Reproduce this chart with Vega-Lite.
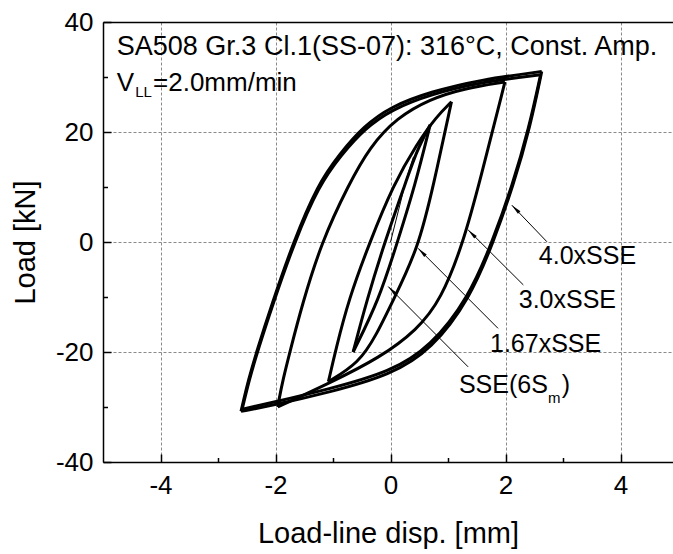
{
  "$schema": "https://vega.github.io/schema/vega-lite/v6.json",
  "width": 570,
  "height": 440,
  "autosize": {"type": "none"},
  "padding": {"left": 103, "top": 22, "right": 0, "bottom": 92},
  "background": "white",
  "config": {"view": {"stroke": null}, "font": "Liberation Sans"},
  "datasets": {
    "loops": [
      {"s": "4.0L", "x": -2.60, "y": -30.8}, {"s": "4.0L", "x": -2.47, "y": -25}, {"s": "4.0L", "x": -2.33, "y": -20}, {"s": "4.0L", "x": -2.07, "y": -11.5}, {"s": "4.0L", "x": -1.69, "y": 0}, {"s": "4.0L", "x": -1.27, "y": 10.4}, {"s": "4.0L", "x": -0.88, "y": 16.1}, {"s": "4.0L", "x": -0.47, "y": 21}, {"s": "4.0L", "x": 0, "y": 24.6}, {"s": "4.0L", "x": 0.69, "y": 27.3}, {"s": "4.0L", "x": 1.56, "y": 29.5}, {"s": "4.0L", "x": 2.63, "y": 31},
      {"s": "4.0U", "x": 2.63, "y": 31}, {"s": "4.0U", "x": 2.43, "y": 21}, {"s": "4.0U", "x": 2.14, "y": 10.4}, {"s": "4.0U", "x": 1.79, "y": 0}, {"s": "4.0U", "x": 1.38, "y": -10.3}, {"s": "4.0U", "x": 0.72, "y": -19.5}, {"s": "4.0U", "x": 0, "y": -24.2}, {"s": "4.0U", "x": -1.05, "y": -27.3}, {"s": "4.0U", "x": -2.1, "y": -29.8}, {"s": "4.0U", "x": -2.60, "y": -30.8},
      {"s": "4.0L2", "x": -2.58, "y": -30.4}, {"s": "4.0L2", "x": -2.45, "y": -24.8}, {"s": "4.0L2", "x": -2.31, "y": -19.8}, {"s": "4.0L2", "x": -2.05, "y": -11.4}, {"s": "4.0L2", "x": -1.67, "y": 0}, {"s": "4.0L2", "x": -1.25, "y": 10.2}, {"s": "4.0L2", "x": -0.86, "y": 15.8}, {"s": "4.0L2", "x": -0.45, "y": 20.6}, {"s": "4.0L2", "x": 0.02, "y": 24.1}, {"s": "4.0L2", "x": 0.71, "y": 26.9}, {"s": "4.0L2", "x": 1.58, "y": 29.1}, {"s": "4.0L2", "x": 2.61, "y": 30.4},
      {"s": "4.0U2", "x": 2.61, "y": 30.4}, {"s": "4.0U2", "x": 2.41, "y": 20.8}, {"s": "4.0U2", "x": 2.12, "y": 10.3}, {"s": "4.0U2", "x": 1.77, "y": 0}, {"s": "4.0U2", "x": 1.36, "y": -10.1}, {"s": "4.0U2", "x": 0.7, "y": -19}, {"s": "4.0U2", "x": 0, "y": -23.6}, {"s": "4.0U2", "x": -1.05, "y": -26.7}, {"s": "4.0U2", "x": -2.1, "y": -29.3}, {"s": "4.0U2", "x": -2.58, "y": -30.4},
      {"s": "3.0L", "x": -1.96, "y": -30}, {"s": "3.0L", "x": -1.94, "y": -28.7}, {"s": "3.0L", "x": -1.87, "y": -25}, {"s": "3.0L", "x": -1.75, "y": -20}, {"s": "3.0L", "x": -1.54, "y": -11.5}, {"s": "3.0L", "x": -1.2, "y": 0}, {"s": "3.0L", "x": -0.73, "y": 10.4}, {"s": "3.0L", "x": -0.36, "y": 17.3}, {"s": "3.0L", "x": 0.11, "y": 22.6}, {"s": "3.0L", "x": 0.69, "y": 26.0}, {"s": "3.0L", "x": 1.27, "y": 27.9}, {"s": "3.0L", "x": 1.99, "y": 29.1},
      {"s": "3.0U", "x": 1.99, "y": 29.1}, {"s": "3.0U", "x": 1.56, "y": 11.3}, {"s": "3.0U", "x": 1.27, "y": 0}, {"s": "3.0U", "x": 0.88, "y": -10.5}, {"s": "3.0U", "x": 0.46, "y": -16}, {"s": "3.0U", "x": -0.18, "y": -21}, {"s": "3.0U", "x": -1.05, "y": -25.6}, {"s": "3.0U", "x": -1.96, "y": -30},
      {"s": "1.67L", "x": -1.08, "y": -25.4}, {"s": "1.67L", "x": -0.95, "y": -19.5}, {"s": "1.67L", "x": -0.73, "y": -10.5}, {"s": "1.67L", "x": -0.36, "y": 0}, {"s": "1.67L", "x": 0.05, "y": 10.4}, {"s": "1.67L", "x": 0.46, "y": 17.9}, {"s": "1.67L", "x": 0.8, "y": 22.8}, {"s": "1.67L", "x": 1.06, "y": 25.5},
      {"s": "1.67U", "x": 1.06, "y": 25.5}, {"s": "1.67U", "x": 0.75, "y": 10.4}, {"s": "1.67U", "x": 0.48, "y": -1.2}, {"s": "1.67U", "x": 0.05, "y": -10.5}, {"s": "1.67U", "x": -0.25, "y": -17}, {"s": "1.67U", "x": -0.55, "y": -22}, {"s": "1.67U", "x": -1.08, "y": -25.4},
      {"s": "SSEL", "x": -0.65, "y": -20}, {"s": "SSEL", "x": -0.41, "y": -10.5}, {"s": "SSEL", "x": -0.1, "y": 0}, {"s": "SSEL", "x": 0.25, "y": 10.4}, {"s": "SSEL", "x": 0.46, "y": 16.7}, {"s": "SSEL", "x": 0.69, "y": 21.3},
      {"s": "SSEU", "x": 0.69, "y": 21.3}, {"s": "SSEU", "x": 0.43, "y": 10.4}, {"s": "SSEU", "x": 0.12, "y": 0}, {"s": "SSEU", "x": -0.2, "y": -10.5}, {"s": "SSEU", "x": -0.65, "y": -20}
    ],
    "init": [
      {"x": 0, "y": 0}, {"x": 0.14, "y": 5.8}, {"x": 0.28, "y": 11.5}, {"x": 0.4, "y": 15.5}
    ],
    "arrows": [
      {"name": "4.0xSSE", "x": 2.72, "y": 0.05, "x2": 2.11, "y2": 6.7},
      {"name": "3.0xSSE", "x": 2.31, "y": -7.8, "x2": 1.35, "y2": 2.2},
      {"name": "1.67xSSE", "x": 1.87, "y": -15.7, "x2": 0.48, "y2": -1.15},
      {"name": "SSE", "x": 1.35, "y": -22.7, "x2": -0.04, "y2": -8.1}
    ],
    "title1": [
      {"text": "SA508 Gr.3 Cl.1(SS-07): 316°C, Const. Amp.", "x": -4.76, "y": 34}
    ],
    "title2": [
      {"text": "V", "x": -4.76, "y": 27.45},
      {"text": "=2.0mm/min", "x": -4.13, "y": 27.45}
    ],
    "notes": [
      {"text": "4.0xSSE", "x": 2.58, "y": -4},
      {"text": "3.0xSSE", "x": 2.23, "y": -12},
      {"text": "1.67xSSE", "x": 1.73, "y": -20},
      {"text": "SSE(6S", "x": 1.19, "y": -27.5},
      {"text": ")", "x": 2.98, "y": -27.5}
    ],
    "subs": [
      {"text": "LL", "x": -4.44, "y": 26.4},
      {"text": "m", "x": 2.74, "y": -29.3}
    ]
  },
  "layer": [
    {
      "data": {"name": "loops"},
      "mark": {"type": "line", "color": "black", "strokeWidth": 3, "interpolate": "basis", "clip": true},
      "encoding": {
        "x": {"field": "x", "type": "quantitative",
          "scale": {"domain": [-5, 4.913], "nice": false, "zero": false},
          "axis": {"values": [-4, -2, 0, 2, 4], "labelExpr": "'' + datum.value", "labelFlush": false, "labelOverlap": false,
            "grid": true, "gridColor": "#8a8a8a", "gridDash": [3, 2], "gridWidth": 1,
            "domainColor": "black", "domainWidth": 1.5, "tickColor": "black", "tickSize": -8, "tickWidth": 1.5,
            "labelPadding": 18, "labelFontSize": 26, "labelColor": "black", "labelFont": "Liberation Sans",
            "title": "Load-line disp. [mm]", "titleFontSize": 29, "titleFontWeight": "normal", "titleColor": "black",
            "titleFont": "Liberation Sans", "titleY": 80, "titleBaseline": "alphabetic"}},
        "y": {"field": "y", "type": "quantitative",
          "scale": {"domain": [-40, 40], "nice": false, "zero": false},
          "axis": {"values": [-40, -20, 0, 20, 40], "labelExpr": "'' + datum.value", "labelFlush": false, "labelOverlap": false,
            "grid": true, "gridColor": "#8a8a8a", "gridDash": [3, 2], "gridWidth": 1,
            "domainColor": "black", "domainWidth": 1.5, "tickColor": "black", "tickSize": -8, "tickWidth": 1.5,
            "labelPadding": 18, "labelFontSize": 26, "labelColor": "black", "labelFont": "Liberation Sans",
            "title": "Load [kN]", "titleFontSize": 29, "titleFontWeight": "normal", "titleColor": "black",
            "titleFont": "Liberation Sans", "titleX": -69, "titleY": 220, "titleAngle": 270, "titleBaseline": "alphabetic", "titleAlign": "center"}},
        "detail": {"field": "s", "type": "nominal"}
      }
    },
    {
      "data": {"name": "loops"},
      "mark": {"type": "point", "opacity": 0},
      "encoding": {
        "x": {"field": "x", "type": "quantitative",
          "axis": {"orient": "bottom", "values": [-3, -1, 1, 3], "labels": false, "domain": false, "grid": false, "title": null,
            "ticks": true, "tickSize": -4.5, "tickColor": "black", "tickWidth": 1.5}},
        "y": {"field": "y", "type": "quantitative",
          "axis": {"orient": "left", "values": [-30, -10, 10, 30], "labels": false, "domain": false, "grid": false, "title": null,
            "ticks": true, "tickSize": -4.5, "tickColor": "black", "tickWidth": 1.5}}
      }
    },
    {
      "data": {"name": "loops"},
      "mark": {"type": "point", "opacity": 0},
      "encoding": {
        "x": {"field": "x", "type": "quantitative",
          "axis": {"orient": "top", "values": [], "labels": false, "ticks": false, "grid": false, "title": null,
            "domain": true, "domainColor": "black", "domainWidth": 1.5}}
      }
    },
    {
      "data": {"name": "init"},
      "mark": {"type": "line", "color": "black", "strokeWidth": 1, "interpolate": "monotone"},
      "encoding": {
        "x": {"field": "x", "type": "quantitative", "axis": null},
        "y": {"field": "y", "type": "quantitative", "axis": null}
      }
    },
    {
      "data": {"name": "arrows"},
      "mark": {"type": "rule", "color": "black", "strokeWidth": 1},
      "encoding": {
        "x": {"field": "x", "type": "quantitative", "axis": null},
        "y": {"field": "y", "type": "quantitative", "axis": null},
        "x2": {"field": "x2"},
        "y2": {"field": "y2"}
      }
    },
    {
      "data": {"name": "arrows"},
      "mark": {"type": "point", "shape": "M0,0L-0.45,2.6L0.45,2.6Z", "size": 64, "angle": 315, "filled": true, "color": "black", "opacity": 1, "strokeWidth": 0},
      "encoding": {
        "x": {"field": "x2", "type": "quantitative", "axis": null},
        "y": {"field": "y2", "type": "quantitative", "axis": null}
      }
    },
    {
      "data": {"name": "title1"},
      "mark": {"type": "text", "align": "left", "baseline": "alphabetic", "fontSize": 27, "font": "Liberation Sans", "color": "black"},
      "encoding": {
        "x": {"field": "x", "type": "quantitative", "axis": null},
        "y": {"field": "y", "type": "quantitative", "axis": null},
        "text": {"field": "text"}
      }
    },
    {
      "data": {"name": "title2"},
      "mark": {"type": "text", "align": "left", "baseline": "alphabetic", "fontSize": 26, "font": "Liberation Sans", "color": "black"},
      "encoding": {
        "x": {"field": "x", "type": "quantitative", "axis": null},
        "y": {"field": "y", "type": "quantitative", "axis": null},
        "text": {"field": "text"}
      }
    },
    {
      "data": {"name": "notes"},
      "mark": {"type": "text", "align": "left", "baseline": "alphabetic", "fontSize": 25, "font": "Liberation Sans", "color": "black"},
      "encoding": {
        "x": {"field": "x", "type": "quantitative", "axis": null},
        "y": {"field": "y", "type": "quantitative", "axis": null},
        "text": {"field": "text"}
      }
    },
    {
      "data": {"name": "subs"},
      "mark": {"type": "text", "align": "left", "baseline": "alphabetic", "fontSize": 15, "font": "Liberation Sans", "color": "black"},
      "encoding": {
        "x": {"field": "x", "type": "quantitative", "axis": null},
        "y": {"field": "y", "type": "quantitative", "axis": null},
        "text": {"field": "text"}
      }
    }
  ],
  "resolve": {"axis": {"x": "independent", "y": "independent"}}
}
